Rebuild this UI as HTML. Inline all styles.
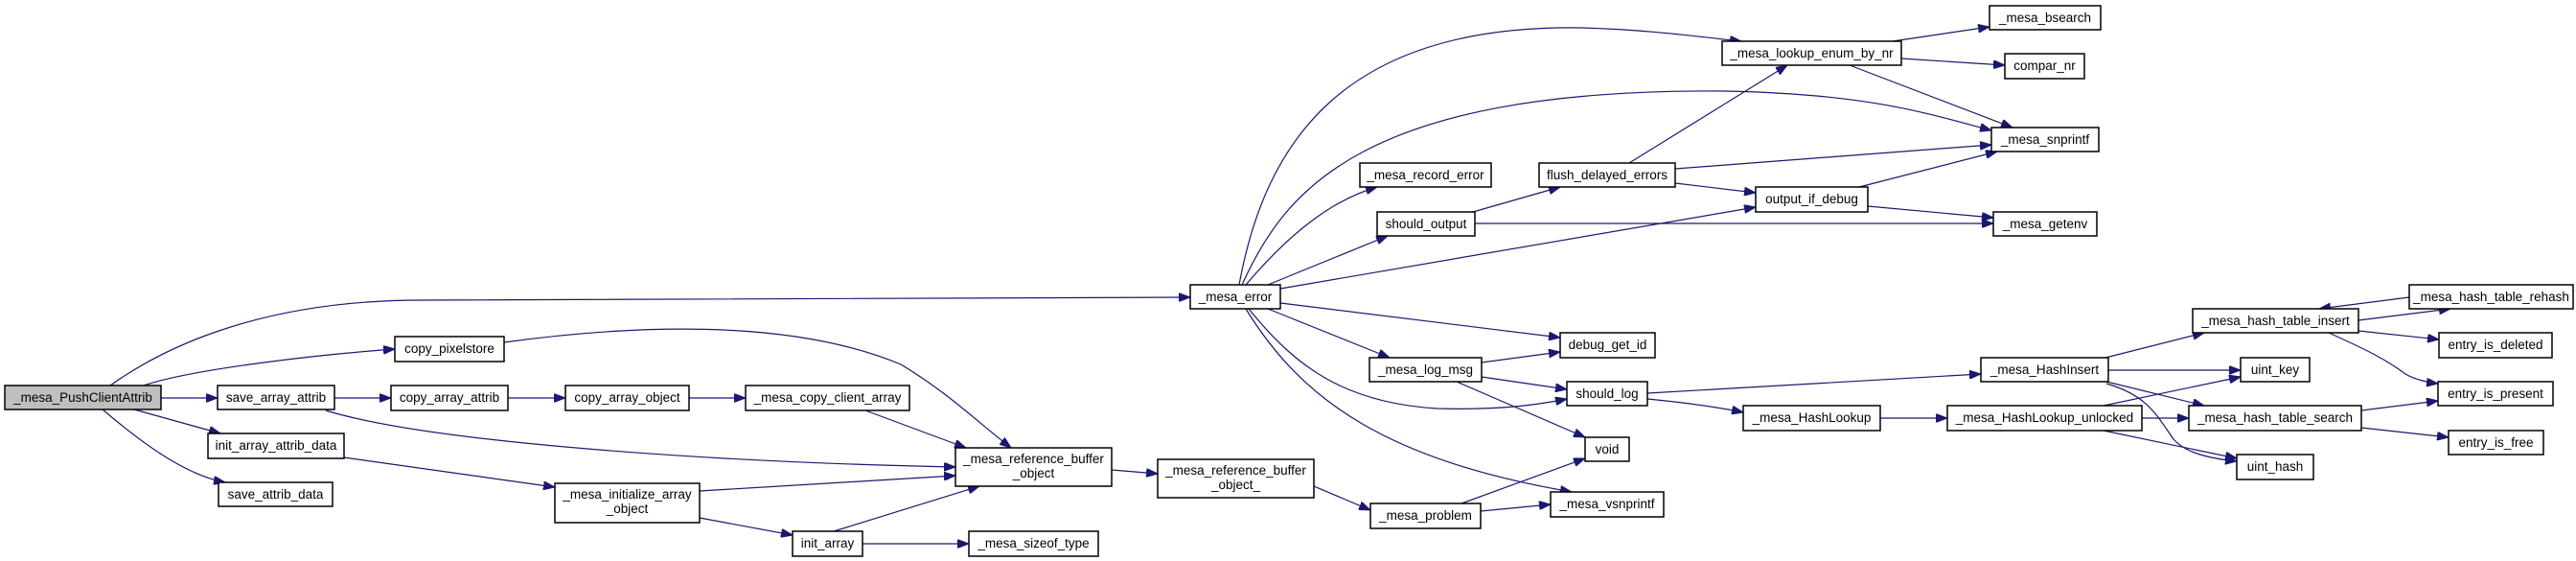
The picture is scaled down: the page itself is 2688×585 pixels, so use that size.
<!DOCTYPE html>
<html><head><meta charset="utf-8"><style>
html,body{margin:0;padding:0;background:#fff;}
svg{display:block;}
text{font-family:"Liberation Sans",Arial,sans-serif;font-size:13.5px;fill:#000;}
.b{fill:#fff;stroke:#000;stroke-width:1.5;}
.e{fill:none;stroke:#191970;stroke-width:1.2;marker-end:url(#a);}
</style></head><body>
<svg width="2688" height="585" viewBox="0 0 2688 585" xmlns="http://www.w3.org/2000/svg">
<defs><marker id="a" markerWidth="12" markerHeight="9" refX="12" refY="4.5" orient="auto" markerUnits="userSpaceOnUse"><path d="M0,0 L12,4.5 L0,9 z" fill="#191970" stroke="#191970"/></marker></defs>

<g>
<path class="e" d="M115,402 C160,370 260,313 440,313 L1242,310"/>
<path class="e" d="M150,402 C200,385 330,370 412,364"/>
<path class="e" d="M168,415 L227,415"/>
<path class="e" d="M140,427 L230,452"/>
<path class="e" d="M107,427 C140,455 190,495 235,503"/>
<path class="e" d="M526,357 C650,340 820,330 940,380 C990,410 1020,440 1055,467"/>
<path class="e" d="M349,415 L408,415"/>
<path class="e" d="M530,415 L590,415"/>
<path class="e" d="M719,415 L778,415"/>
<path class="e" d="M903,428 L1008,467"/>
<path class="e" d="M340,428 C450,462 750,482 997,487"/>
<path class="e" d="M359,477 L579,508"/>
<path class="e" d="M730,512 L997,496"/>
<path class="e" d="M730,540 L827,558"/>
<path class="e" d="M870,554 L1022,507"/>
<path class="e" d="M900,567 L1011,567"/>
<path class="e" d="M1160,490 L1208,494"/>
<path class="e" d="M1371,507 L1430,532"/>
<path class="e" d="M1525,525 L1654,478"/>
<path class="e" d="M1545,533 L1618,526"/>
<path class="e" d="M1293,297 C1320,150 1400,25 1650,29 C1720,31 1770,38 1817,43"/>
<path class="e" d="M1296,297 C1340,200 1420,92 1800,95 C1950,98 2010,118 2078,136"/>
<path class="e" d="M1300,297 C1340,250 1385,210 1437,195"/>
<path class="e" d="M1323,297 L1448,246"/>
<path class="e" d="M1336,301 L1832,216"/>
<path class="e" d="M1336,316 L1628,352"/>
<path class="e" d="M1323,322 L1450,373"/>
<path class="e" d="M1303,322 C1350,380 1400,420 1500,426 C1570,428 1610,421 1635,416"/>
<path class="e" d="M1300,322 C1360,420 1450,480 1640,513"/>
<path class="e" d="M1537,221 L1628,195"/>
<path class="e" d="M1539,233 L2080,233"/>
<path class="e" d="M1700,170 L1865,68"/>
<path class="e" d="M1748,176 L2078,151"/>
<path class="e" d="M1748,191 L1832,201"/>
<path class="e" d="M1975,43 L2076,28"/>
<path class="e" d="M1984,61 L2092,68"/>
<path class="e" d="M1930,68 L2100,133"/>
<path class="e" d="M1940,195 L2084,158"/>
<path class="e" d="M1949,215 L2080,227"/>
<path class="e" d="M1546,378 L1628,367"/>
<path class="e" d="M1546,393 L1635,406"/>
<path class="e" d="M1520,398 L1654,456"/>
<path class="e" d="M1719,410 L2067,390"/>
<path class="e" d="M1719,416 C1760,420 1790,424 1819,430"/>
<path class="e" d="M1962,436 L2032,436"/>
<path class="e" d="M2197,373 L2300,347"/>
<path class="e" d="M2200,386 L2338,386"/>
<path class="e" d="M2198,398 L2300,423"/>
<path class="e" d="M2198,400 C2240,412 2250,432 2268,458 C2280,472 2305,478 2334,481"/>
<path class="e" d="M2195,423 L2338,393"/>
<path class="e" d="M2235,436 L2284,436"/>
<path class="e" d="M2195,449 L2334,478"/>
<path class="e" d="M2461,334 L2557,322"/>
<path class="e" d="M2514,310 L2420,322"/>
<path class="e" d="M2461,345 L2545,354"/>
<path class="e" d="M2430,347 C2470,365 2490,375 2510,390 C2520,396 2535,399 2544,400"/>
<path class="e" d="M2464,428 L2544,418"/>
<path class="e" d="M2464,446 L2555,456"/>
</g>

<g>
<rect x="5" y="402" width="163" height="25" style="fill:#bfbfbf;stroke:#000;stroke-width:1.5"/><text x="86.5" y="419" text-anchor="middle">_mesa_PushClientAttrib</text>
<rect class="b" x="412" y="351" width="114" height="26"/><text x="469" y="368" text-anchor="middle">copy_pixelstore</text>
<rect class="b" x="227" y="402" width="122" height="25"/><text x="288" y="419" text-anchor="middle">save_array_attrib</text>
<rect class="b" x="408" y="402" width="122" height="26"/><text x="469" y="419" text-anchor="middle">copy_array_attrib</text>
<rect class="b" x="590" y="402" width="129" height="26"/><text x="654.5" y="419" text-anchor="middle">copy_array_object</text>
<rect class="b" x="778" y="402" width="171" height="26"/><text x="863.5" y="419" text-anchor="middle">_mesa_copy_client_array</text>
<rect class="b" x="217" y="452" width="142" height="26"/><text x="288" y="469" text-anchor="middle">init_array_attrib_data</text>
<rect class="b" x="228" y="503" width="119" height="25"/><text x="287.5" y="520" text-anchor="middle">save_attrib_data</text>
<rect class="b" x="579" y="504" width="151" height="41"/><text x="654.5" y="520" text-anchor="middle">_mesa_initialize_array</text><text x="654.5" y="535" text-anchor="middle">_object</text>
<rect class="b" x="827" y="554" width="73" height="26"/><text x="863.5" y="571" text-anchor="middle">init_array</text>
<rect class="b" x="997" y="467" width="163" height="40"/><text x="1078.5" y="483" text-anchor="middle">_mesa_reference_buffer</text><text x="1078.5" y="498" text-anchor="middle">_object</text>
<rect class="b" x="1208" y="479" width="163" height="40"/><text x="1289.5" y="495" text-anchor="middle">_mesa_reference_buffer</text><text x="1289.5" y="510" text-anchor="middle">_object_</text>
<rect class="b" x="1011" y="554" width="135" height="26"/><text x="1078.5" y="571" text-anchor="middle">_mesa_sizeof_type</text>
<rect class="b" x="1242" y="297" width="94" height="25"/><text x="1289" y="314" text-anchor="middle">_mesa_error</text>
<rect class="b" x="1419" y="170" width="137" height="25"/><text x="1487.5" y="187" text-anchor="middle">_mesa_record_error</text>
<rect class="b" x="1437" y="221" width="102" height="25"/><text x="1488" y="238" text-anchor="middle">should_output</text>
<rect class="b" x="1606" y="170" width="142" height="25"/><text x="1677" y="187" text-anchor="middle">flush_delayed_errors</text>
<rect class="b" x="1628" y="347" width="99" height="26"/><text x="1677.5" y="364" text-anchor="middle">debug_get_id</text>
<rect class="b" x="1429" y="373" width="117" height="25"/><text x="1487.5" y="390" text-anchor="middle">_mesa_log_msg</text>
<rect class="b" x="1635" y="398" width="84" height="25"/><text x="1677" y="415" text-anchor="middle">should_log</text>
<rect class="b" x="1654" y="456" width="46" height="25"/><text x="1677" y="473" text-anchor="middle">void</text>
<rect class="b" x="1618" y="513" width="118" height="26"/><text x="1677" y="530" text-anchor="middle">_mesa_vsnprintf</text>
<rect class="b" x="1430" y="525" width="115" height="26"/><text x="1487.5" y="542" text-anchor="middle">_mesa_problem</text>
<rect class="b" x="1797" y="43" width="187" height="25"/><text x="1890.5" y="60" text-anchor="middle">_mesa_lookup_enum_by_nr</text>
<rect class="b" x="2076" y="6" width="116" height="25"/><text x="2134" y="23" text-anchor="middle">_mesa_bsearch</text>
<rect class="b" x="2092" y="56" width="83" height="26"/><text x="2133.5" y="73" text-anchor="middle">compar_nr</text>
<rect class="b" x="2078" y="133" width="112" height="25"/><text x="2134" y="150" text-anchor="middle">_mesa_snprintf</text>
<rect class="b" x="1832" y="195" width="117" height="26"/><text x="1890.5" y="212" text-anchor="middle">output_if_debug</text>
<rect class="b" x="2080" y="221" width="108" height="25"/><text x="2134" y="238" text-anchor="middle">_mesa_getenv</text>
<rect class="b" x="2067" y="373" width="133" height="25"/><text x="2133.5" y="390" text-anchor="middle">_mesa_HashInsert</text>
<rect class="b" x="1819" y="423" width="143" height="26"/><text x="1890.5" y="440" text-anchor="middle">_mesa_HashLookup</text>
<rect class="b" x="2032" y="423" width="203" height="26"/><text x="2133.5" y="440" text-anchor="middle">_mesa_HashLookup_unlocked</text>
<rect class="b" x="2288" y="322" width="173" height="25"/><text x="2374.5" y="339" text-anchor="middle">_mesa_hash_table_insert</text>
<rect class="b" x="2514" y="297" width="171" height="25"/><text x="2599.5" y="314" text-anchor="middle">_mesa_hash_table_rehash</text>
<rect class="b" x="2545" y="347" width="118" height="26"/><text x="2604" y="364" text-anchor="middle">entry_is_deleted</text>
<rect class="b" x="2338" y="373" width="72" height="25"/><text x="2374" y="390" text-anchor="middle">uint_key</text>
<rect class="b" x="2544" y="398" width="120" height="25"/><text x="2604" y="415" text-anchor="middle">entry_is_present</text>
<rect class="b" x="2284" y="423" width="180" height="26"/><text x="2374" y="440" text-anchor="middle">_mesa_hash_table_search</text>
<rect class="b" x="2555" y="449" width="99" height="25"/><text x="2604.5" y="466" text-anchor="middle">entry_is_free</text>
<rect class="b" x="2334" y="474" width="80" height="26"/><text x="2374" y="491" text-anchor="middle">uint_hash</text>
</g>
</svg>
</body></html>
